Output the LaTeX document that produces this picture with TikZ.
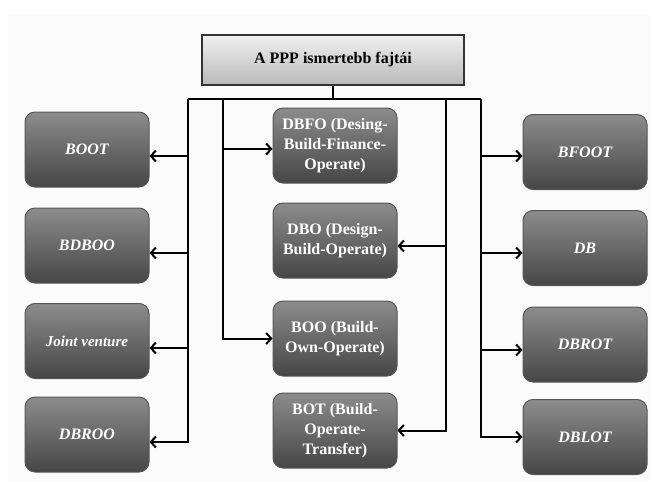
\documentclass[tikz,border=0pt]{standalone}
\usepackage{fontspec}
\setmainfont{Liberation Serif}
\usetikzlibrary{arrows.meta}

\definecolor{boxtop}{HTML}{8C8C8C}
\definecolor{boxbot}{HTML}{464646}
\definecolor{boxrim}{HTML}{575757}
\definecolor{headtop}{HTML}{F0F0F0}
\definecolor{headbot}{HTML}{B9B9B9}
\definecolor{panel}{HTML}{FBFBFB}

\tikzset{
  kind/.style={rectangle, rounded corners=10pt, draw=boxrim, line width=1pt,
    top color=boxtop, bottom color=boxbot, text=white, align=center,
    minimum width=124pt, minimum height=75pt, inner sep=2pt,
    font=\fontsize{16}{20}\selectfont\bfseries},
  kindit/.style={kind, font=\fontsize{16}{20}\selectfont\bfseries\itshape},
  head/.style={rectangle, draw=black!80, line width=1.5pt,
    top color=headtop, bottom color=headbot,
    minimum width=262pt, minimum height=50pt,
    font=\fontsize{16}{20}\selectfont\bfseries},
  line/.style={draw=black, line width=2pt},
  arr/.style={line, -{Straight Barb[length=5pt,width=11pt,line width=2pt]}}
}

\begin{document}
\begin{tikzpicture}[x=1pt,y=-1pt]
        \useasboundingbox (0,0) rectangle (651,482);
        \fill[panel] (8,14) rectangle (651,482);

        %Title
        \node[head] (title) at (333,60) {A PPP ismertebb fajt\'ai};

        %Left nodes
        \node[kindit] (boot)  at (87,149.5) {BOOT};
        \node[kindit] (bdboo) at (87,245.5) {BDBOO};
        \node[kindit] (joint) at (87,341) {\fontsize{15}{18}\selectfont Joint venture};
        \node[kindit] (dbroo) at (87,434.5) {DBROO};

        %Middle nodes
        \node[kind] (dbfo) at (335,145.5) {DBFO (Desing-\\Build-Finance-\\Operate)};
        \node[kind] (dbo)  at (335,240.5) {DBO (Design-\\Build-Operate)};
        \node[kind] (boo)  at (335,338.5) {BOO (Build-\\Own-Operate)};
        \node[kind] (bot)  at (335,430.5) {BOT (Build-\\Operate-\\Transfer)};

        %Right nodes
        \node[kindit] (bfoot) at (585,152) {BFOOT};
        \node[kindit] (db)    at (585,248) {DB};
        \node[kindit] (dbrot) at (585,344.5) {DBROT};
        \node[kindit] (dblot) at (585,437) {DBLOT};

        %Bus
        \coordinate (busL) at (188,99);
        \coordinate (busA) at (223,99);
        \coordinate (busB) at (446,99);
        \coordinate (busR) at (481,99);

        \draw[line] (title.south) -- (title.south |- busL);
        \draw[line] (busL) -- (busR);

        %Left branch
        \draw[arr] (busL) |- ([yshift=-7.5pt]dbroo.east);
        \draw[arr] ([yshift=-6.5pt]busL |- boot.east) -- ([yshift=-6.5pt]boot.east);
        \draw[arr] ([yshift=-7.5pt]busL |- bdboo.east) -- ([yshift=-7.5pt]bdboo.east);
        \draw[arr] ([yshift=-7pt]busL |- joint.east) -- ([yshift=-7pt]joint.east);

        %Middle branches
        \draw[arr] (busA) |- (boo.west);
        \draw[arr] ([yshift=-3.5pt]busA |- dbfo.west) -- ([yshift=-3.5pt]dbfo.west);
        \draw[arr] (busB) |- (bot.east);
        \draw[arr] ([yshift=-5.5pt]busB |- dbo.east) -- ([yshift=-5.5pt]dbo.east);

        %Right branch
        \draw[arr] (busR) |- (dblot.west);
        \draw[arr] ([yshift=-4pt]busR |- bfoot.west) -- ([yshift=-4pt]bfoot.west);
        \draw[arr] ([yshift=-5pt]busR |- db.west) -- ([yshift=-5pt]db.west);
        \draw[arr] ([yshift=-5.5pt]busR |- dbrot.west) -- ([yshift=-5.5pt]dbrot.west);

    \end{tikzpicture}
\end{document}
